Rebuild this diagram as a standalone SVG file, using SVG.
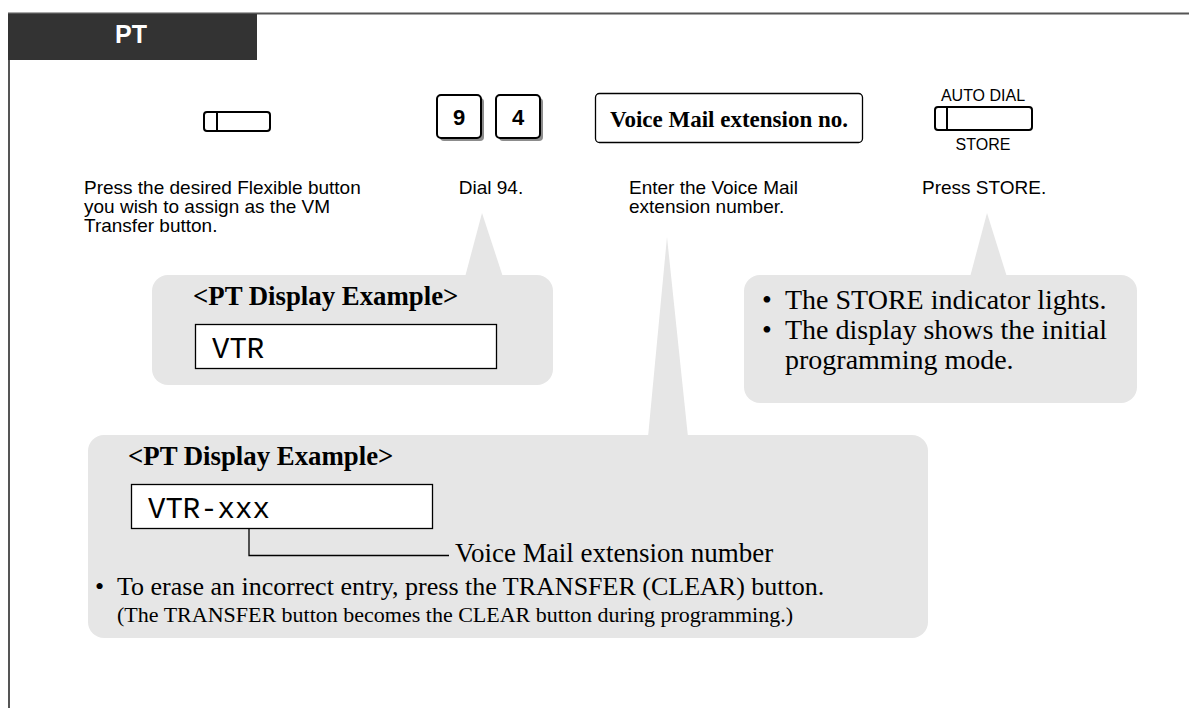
<svg xmlns="http://www.w3.org/2000/svg" width="1189" height="708" viewBox="0 0 1189 708">
<style>
.sans{font-family:"Liberation Sans",Arial,sans-serif;fill:#000}
.serif{font-family:"Liberation Serif","Times New Roman",serif;fill:#000}
.mono{font-family:"Liberation Mono","Courier New",monospace;fill:#000}
.desc{font-size:19px}
.callout{fill:#e6e6e6}
.btn{fill:#fff;stroke:#000;stroke-width:2}
.key{fill:#fff;stroke:#000;stroke-width:2}
.keysh{fill:#8c8c8c}
.disp{fill:#fff;stroke:#000;stroke-width:1.3}
</style>
<rect width="1189" height="708" fill="#fff"/>
<g id="frame">
<line x1="8" y1="13.5" x2="1189" y2="13.5" stroke="#555" stroke-width="2"/>
<line x1="9" y1="13" x2="9" y2="708" stroke="#555" stroke-width="2"/>
<rect x="8" y="14" width="249" height="46" fill="#333"/>
<text x="131" y="43" class="sans" font-size="25" font-weight="bold" text-anchor="middle" style="fill:#fff">PT</text>
</g>
<g id="step1">
<rect x="204" y="112" width="66" height="19" rx="3" class="btn"/>
<line x1="217" y1="112" x2="217" y2="131" stroke="#000" stroke-width="2"/>
<text class="sans desc" x="84" y="194">Press the desired Flexible button</text>
<text class="sans desc" x="84" y="213">you wish to assign as the VM</text>
<text class="sans desc" x="84" y="232">Transfer button.</text>
</g>
<g id="step2">
<rect x="440" y="98" width="44" height="43" rx="4" class="keysh"/>
<rect x="437" y="95" width="44" height="43" rx="4" class="key"/>
<text x="459" y="125" class="sans" font-size="22" font-weight="bold" text-anchor="middle">9</text>
<rect x="499" y="98" width="44" height="43" rx="4" class="keysh"/>
<rect x="496" y="95" width="44" height="43" rx="4" class="key"/>
<text x="518" y="125" class="sans" font-size="22" font-weight="bold" text-anchor="middle">4</text>
<text class="sans desc" x="491" y="194" text-anchor="middle">Dial 94.</text>
</g>
<g id="step3">
<rect x="595.5" y="93.5" width="267" height="49" rx="4" fill="#fff" stroke="#000" stroke-width="1.3"/>
<text x="729" y="127" class="serif" font-size="23" font-weight="bold" text-anchor="middle">Voice Mail extension no.</text>
<text class="sans desc" x="629" y="194">Enter the Voice Mail</text>
<text class="sans desc" x="629" y="213">extension number.</text>
</g>
<g id="step4">
<text x="983" y="101" class="sans" font-size="16" text-anchor="middle">AUTO DIAL</text>
<rect x="935" y="107" width="97" height="23" rx="3" class="btn"/>
<line x1="947" y1="107" x2="947" y2="130" stroke="#000" stroke-width="2"/>
<text x="983" y="150" class="sans" font-size="16" text-anchor="middle">STORE</text>
<text class="sans desc" x="922" y="194">Press STORE.</text>
</g>
<g id="callout1">
<path class="callout" d="M465,277 L482,213 L503,277 Z"/>
<rect x="152" y="275" width="401" height="110" rx="16" class="callout"/>
<text x="193" y="305" class="serif" font-size="26.8" font-weight="bold">&lt;PT Display Example&gt;</text>
<rect x="195.5" y="324.5" width="301" height="44" class="disp"/>
<text x="212" y="358" class="mono" font-size="29">VTR</text>
</g>
<g id="callout2">
<path class="callout" d="M970,277 L987,213 L1007,277 Z"/>
<rect x="744" y="275" width="393" height="128" rx="16" class="callout"/>
<text x="762" y="309" class="serif" font-size="28">•</text>
<text x="785" y="309" class="serif" font-size="28">The STORE indicator lights.</text>
<text x="762" y="339" class="serif" font-size="28">•</text>
<text x="785" y="339" class="serif" font-size="28">The display shows the initial</text>
<text x="785" y="369" class="serif" font-size="28">programming mode.</text>
</g>
<g id="callout3">
<path class="callout" d="M648,437 L667,237 L688,437 Z"/>
<rect x="88" y="435" width="840" height="203" rx="16" class="callout"/>
<text x="128" y="465" class="serif" font-size="26.8" font-weight="bold">&lt;PT Display Example&gt;</text>
<rect x="131.5" y="484.5" width="301" height="44" class="disp"/>
<text x="148" y="518" class="mono" font-size="29">VTR-xxx</text>
<text x="455" y="562" class="serif" font-size="27">Voice Mail extension number</text>
<text x="95" y="595" class="serif" font-size="26">•</text>
<text x="117" y="595" class="serif" font-size="26">To erase an incorrect entry, press the TRANSFER (CLEAR) button.</text>
<text x="117" y="622" class="serif" font-size="22">(The TRANSFER button becomes the CLEAR button during programming.)</text>
</g>
<g id="connectors">
<polyline points="249,529 249,555.5 449,555.5" fill="none" stroke="#000" stroke-width="1.3"/>
</g>
</svg>
